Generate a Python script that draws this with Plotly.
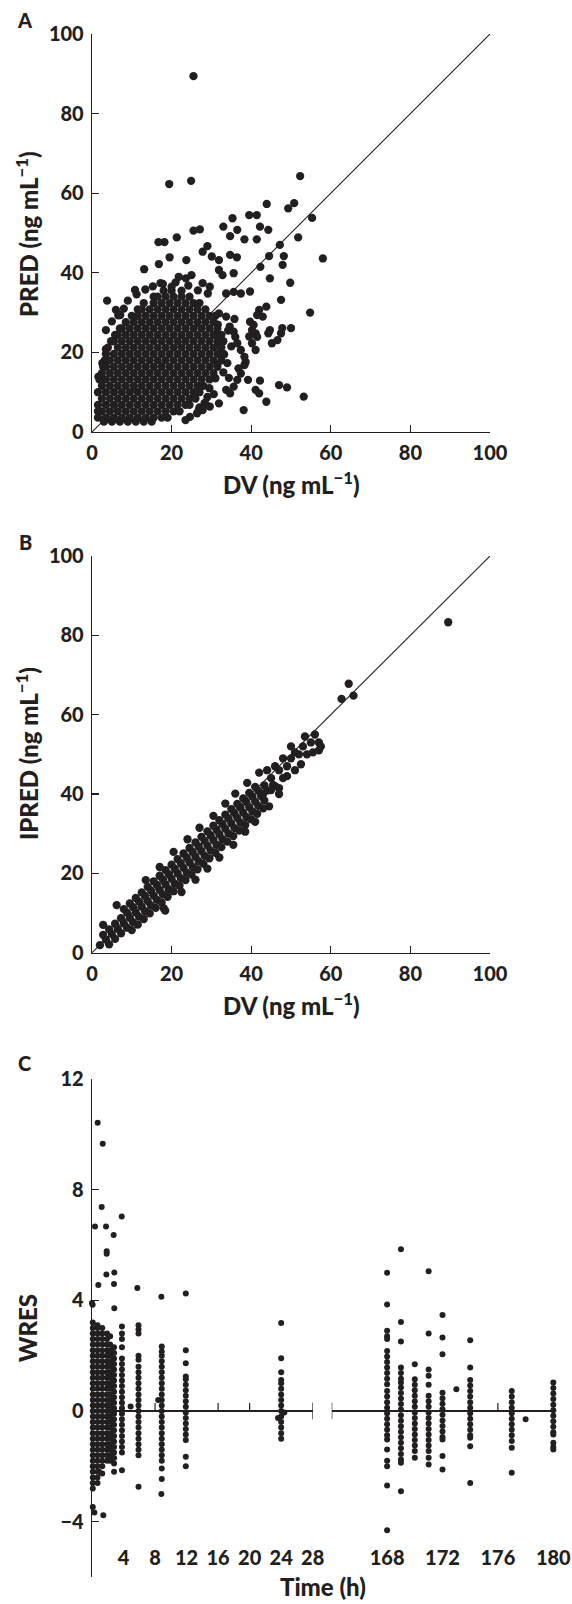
import plotly.graph_objects as go

W, H = 572, 1604
INK = "#231f20"
FONT = "Lato"

# ---------------- Panel A : PRED vs DV ----------------
AXIS_TICKS = [0, 20, 40, 60, 80, 100]
IDENTITY = [0, 100]

A_BLOB_PRED = [2.6, 3.6, 5.2, 6.8, 8.4, 10.0, 11.6, 13.2, 14.8, 16.4, 18.0,
               19.6, 21.2, 22.8, 24.4, 26.0, 27.6, 29.2, 30.8, 32.4, 34.0, 35.5]
A_BLOB_DV = [
    [3.0, 5.0, 7.0, 9.0, 11.0, 13.0, 15.0],
    [1.5, 3.5, 5.5, 7.5, 9.5, 11.5, 13.5, 15.5, 17.5, 19.0],
    [1.5, 2.5, 4.5, 6.5, 8.5, 10.5, 12.5, 14.5, 16.5, 18.5, 20.5, 22.0],
    [1.5, 3.5, 5.5, 7.5, 9.5, 11.5, 13.5, 15.5, 17.5, 19.5, 21.5, 23.5, 24.5],
    [2.5, 4.5, 6.5, 8.5, 10.5, 12.5, 14.5, 16.5, 18.5, 20.5, 22.5, 24.5, 26.0],
    [1.5, 3.5, 5.5, 7.5, 9.5, 11.5, 13.5, 15.5, 17.5, 19.5, 21.5, 23.5, 25.5, 27.0],
    [2.5, 4.5, 6.5, 8.5, 10.5, 12.5, 14.5, 16.5, 18.5, 20.5, 22.5, 24.5, 26.5, 28.0],
    [1.9, 3.5, 5.5, 7.5, 9.5, 11.5, 13.5, 15.5, 17.5, 19.5, 21.5, 23.5, 25.5, 27.5, 29.5],
    [2.5, 4.5, 6.5, 8.5, 10.5, 12.5, 14.5, 16.5, 18.5, 20.5, 22.5, 24.5, 26.5, 28.5, 30.5],
    [2.8, 3.5, 5.5, 7.5, 9.5, 11.5, 13.5, 15.5, 17.5, 19.5, 21.5, 23.5, 25.5, 27.5, 29.5, 31.5],
    [3.2, 4.5, 6.5, 8.5, 10.5, 12.5, 14.5, 16.5, 18.5, 20.5, 22.5, 24.5, 26.5, 28.5, 30.5, 32.5],
    [3.5, 5.5, 7.5, 9.5, 11.5, 13.5, 15.5, 17.5, 19.5, 21.5, 23.5, 25.5, 27.5, 29.5, 31.5, 33.0],
    [4.0, 6.5, 8.5, 10.5, 12.5, 14.5, 16.5, 18.5, 20.5, 22.5, 24.5, 26.5, 28.5, 30.5, 32.5],
    [4.8, 5.5, 7.5, 9.5, 11.5, 13.5, 15.5, 17.5, 19.5, 21.5, 23.5, 25.5, 27.5, 29.5, 31.5, 33.0],
    [5.8, 6.5, 8.5, 10.5, 12.5, 14.5, 16.5, 18.5, 20.5, 22.5, 24.5, 26.5, 28.5, 30.5, 32.5],
    [7.0, 7.5, 9.5, 11.5, 13.5, 15.5, 17.5, 19.5, 21.5, 23.5, 25.5, 27.5, 29.5, 31.5],
    [8.5, 10.5, 12.5, 14.5, 16.5, 18.5, 20.5, 22.5, 24.5, 26.5, 28.5, 30.5],
    [10.0, 11.5, 13.5, 15.5, 17.5, 19.5, 21.5, 23.5, 25.5, 27.5, 29.5, 31.0],
    [11.5, 12.5, 14.5, 16.5, 18.5, 20.5, 22.5, 24.5, 26.5, 28.5],
    [13.0, 15.5, 17.5, 19.5, 21.5, 23.5, 25.5, 27.0],
    [15.5, 16.5, 18.5, 20.5, 22.5, 24.5],
    [18.0, 20.0, 22.5],
]

A_SCAT_DV = [25.5, 19.4, 24.9, 52.3, 43.9, 49.3, 50.8, 41.4, 39.5, 35.3, 33.0, 25.5, 27.1,
             21.3, 16.7, 18.2, 42.2, 44.3, 41.4, 38.3, 36.5, 34.7, 29.0, 47.2, 51.8, 55.3,
             58.0, 54.8, 53.2, 49.8, 50.0, 48.2, 47.9, 47.5, 47.8, 47.0, 49.0, 43.8, 42.2,
             44.7, 44.5, 42.3, 39.7, 38.1, 23.5, 3.8, 1.6, 3.5, 2.6, 3.5, 13.1, 16.8, 19.5,
             23.7, 10.8, 6.0, 7.1, 27.8, 30.1, 31.9, 34.7, 36.4, 35.6, 31.9, 32.8, 27.8,
             29.6, 25.0, 21.8, 23.6, 17.2, 20.0, 33.7, 35.6, 37.4, 29.1, 31.9, 33.7, 34.6,
             35.6, 36.0, 36.5, 37.4, 38.3, 40.2, 41.1, 39.7, 40.6, 40.2, 41.1, 41.5, 42.9,
             43.8, 44.3, 44.7, 45.2, 46.6, 47.5, 41.5, 42.0, 37.4, 38.3, 36.5, 35.6, 33.7,
             34.7, 31.9, 29.6, 27.8, 26.4, 24.6, 41.1, 42.0, 39.2,
             29.5, 31.0, 33.0, 34.0, 33.2, 35.0, 29.0, 30.6, 28.3, 27.0, 34.4, 36.8,
             9.0, 11.2, 13.4, 15.3, 17.8, 21.0, 24.2, 26.6, 8.0, 6.6, 5.0, 38.6, 39.5,
             31.5, 32.2, 30.8, 34.2, 31.6, 26.8, 28.6, 35.8]
A_SCAT_PRED = [89.4, 62.3, 63.1, 64.3, 57.3, 56.2, 57.5, 54.5, 54.5, 53.7, 51.6, 50.6, 50.9,
               48.9, 47.7, 47.7, 51.6, 50.8, 48.4, 48.4, 50.8, 49.2, 46.7, 47.0, 48.9, 53.8,
               43.6, 30.0, 8.9, 37.5, 26.1, 44.2, 42.0, 33.2, 26.1, 11.8, 11.2, 7.6, 12.9,
               38.6, 44.2, 41.5, 35.3, 5.5, 3.0, 33.0, 13.9, 25.6, 17.3, 20.8, 40.9, 42.2, 43.9,
               43.2, 35.7, 30.7, 29.4, 45.3, 44.1, 43.2, 44.5, 43.9, 39.9, 40.7, 39.4, 37.4,
               36.5, 39.4, 39.0, 38.6, 37.4, 36.5, 34.8, 35.2, 34.8, 34.8, 29.8, 29.0, 26.5,
               25.2, 23.9, 22.3, 20.6, 18.9, 22.3, 20.6, 27.7, 26.9, 25.6, 24.8, 23.9, 29.0,
               31.5, 24.8, 25.6, 22.3, 23.1, 24.8, 29.4, 30.7, 14.7, 16.8, 13.1, 11.4, 10.6,
               9.7, 7.2, 6.4, 5.5, 4.7, 3.8, 10.6, 9.7, 13.1,
               11.0, 13.5, 15.0, 17.3, 19.5, 21.5, 8.8, 9.5, 7.3, 6.2, 13.6, 16.0,
               33.0, 34.6, 35.8, 36.6, 37.2, 37.6, 36.8, 35.6, 31.0, 29.3, 27.8, 17.6, 24.0,
               17.0, 21.5, 24.5, 25.5, 27.0, 5.4, 6.9, 28.4]

# ---------------- Panel B : IPRED vs DV ----------------
B_MID_DV = [2, 3.5, 5, 6.5, 8, 9.5, 11, 12.5, 14, 15.5, 17, 18.5, 20, 21.5, 23, 24.5, 26,
            27.5, 29, 30.5, 32, 33.5, 35, 36.5, 38, 39.5, 41, 42.5, 44, 45.5]
B_MID_IP = [1.9, 3.3, 4.7, 6.0, 7.4, 8.8, 10.2, 11.6, 13.0, 14.4, 15.8, 17.2, 18.6, 20.0,
            21.4, 22.8, 24.2, 25.6, 27.0, 28.4, 29.8, 31.2, 32.6, 34.0, 35.3, 36.7, 38.1,
            39.5, 40.9, 42.3]
B_UP_DV = [2.8, 4.3, 5.8, 7.3, 8.8, 10.3, 11.8, 13.3, 14.8, 16.3, 17.8, 19.3, 20.8, 22.3,
           23.8, 25.3, 26.8, 28.3, 29.8, 31.3, 32.8, 34.3, 35.8, 37.3, 38.8, 40.3, 41.8, 43.3]
B_UP_IP = [4.5, 5.9, 7.3, 8.7, 10.1, 11.5, 12.9, 14.3, 15.7, 17.1, 18.5, 19.8, 21.2, 22.6,
           24.0, 25.4, 26.8, 28.2, 29.6, 31.0, 32.4, 33.8, 35.2, 36.6, 38.0, 39.4, 40.8, 42.2]
B_LO_DV = [4.3, 5.8, 7.3, 8.8, 10.3, 11.8, 13.3, 14.8, 16.3, 17.8, 19.3, 20.8, 22.3, 23.8,
           25.3, 26.8, 28.3, 29.8, 31.3, 32.8, 34.3, 35.8, 37.3, 38.8, 40.3, 41.8, 43.3]
B_LO_IP = [2.1, 3.5, 4.9, 6.3, 7.7, 9.1, 10.5, 11.9, 13.3, 14.7, 16.0, 17.4, 18.8, 20.2,
           21.6, 23.0, 24.4, 25.8, 27.2, 28.6, 30.0, 31.4, 32.8, 34.2, 35.6, 37.0, 38.4]
B_OUTUP_DV = [8, 9.5, 11, 12.5, 14, 15.5, 17, 18.5, 20, 21.5, 23, 24.5, 26, 27.5, 29, 30.5,
              32, 33.5, 35, 36.5, 38, 39.5, 41]
B_OUTUP_IP = [11.0, 12.4, 13.8, 15.2, 16.6, 18.0, 19.4, 20.8, 22.2, 23.6, 25.0, 26.4, 27.8,
              29.2, 30.6, 32.0, 33.4, 34.8, 36.2, 37.5, 38.9, 40.3, 41.8]
B_OUTLO_DV = [10, 11.5, 13, 14.5, 16, 17.5, 19, 20.5, 22, 23.5, 25, 26.5, 28, 29.5, 31, 32.5,
              34, 35.5, 37, 38.5, 40, 41.5, 43]
B_OUTLO_IP = [5.7, 7.1, 8.5, 9.9, 11.3, 12.7, 14.1, 15.5, 16.9, 18.3, 19.7, 21.0, 22.4, 23.8,
              25.2, 26.6, 28.0, 29.4, 30.8, 32.2, 33.6, 35.0, 36.4]
B_EDGE_DV = [13.5, 17.0, 20.5, 24.0, 27.0, 30.5, 33.5, 36.0, 39.0, 42.0, 18.0, 22.5, 26.0,
             29.0, 32.0, 35.5, 38.5, 41.0, 44.5, 47.0]
B_EDGE_IP = [18.3, 21.6, 25.4, 28.6, 31.5, 34.5, 37.6, 40.1, 42.8, 45.4, 11.2, 15.3, 18.4,
             21.2, 24.0, 27.2, 30.5, 33.0, 36.9, 41.5]
B_SCAT_DV = [45, 46, 47, 48, 49, 50, 51, 52, 53, 54, 55, 56, 57, 57, 50, 48, 46, 44, 43, 45,
             47, 62.7, 64.5, 65.7, 89.5, 6.2, 18.4, 2.8, 49, 52.5, 55.5, 57.5, 51, 53.5]
B_SCAT_IP = [44, 42, 46, 44, 47, 49, 46, 50, 52, 50, 53, 55, 51, 53, 52, 49, 47, 46, 40, 41,
             40, 64, 67.8, 64.8, 83.3, 12.0, 10.6, 7.0, 44.5, 47.5, 50.5, 52.0, 50.5, 54.5]

# ---------------- Panel C : WRES vs time ----------------
C_Y_TICKS = [-4, 0, 4, 8, 12]
C_Y_TEXT = ["\u22124", "0", "4", "8", "12"]
C_LEFT_TICKS = [4, 8, 12, 16, 20, 24, 28]
C_RIGHT_TICKS = [168, 172, 176, 180]
C_BREAKS_LEFT = [28]
C_BREAKS_RIGHT = [164]

C_COL_T = [0.1, 0.7, 1.3, 1.9, 2.3, 2.8, 3.8, 5.9, 8.85, 11.9, 24.0]
C_COL_W = [
    [-2.8, -2.6, -2.4, -2.2, -2.0, -1.8, -1.6, -1.4, -1.2, -1.0, -0.8, -0.6, -0.4, -0.2, 0.0,
     0.2, 0.4, 0.6, 0.8, 1.0, 1.2, 1.4, 1.6, 1.8, 2.0, 2.2, 2.4, 2.6, 2.8, 3.0, 3.2],
    [-2.6, -2.4, -2.2, -2.0, -1.8, -1.6, -1.4, -1.2, -1.0, -0.8, -0.6, -0.4, -0.2, 0.0, 0.2,
     0.4, 0.6, 0.8, 1.0, 1.2, 1.4, 1.6, 1.8, 2.0, 2.2, 2.4, 2.6, 2.8, 3.0, 3.1],
    [-2.0, -1.8, -1.6, -1.4, -1.2, -1.0, -0.8, -0.6, -0.4, -0.2, 0.0, 0.2, 0.4, 0.6, 0.8,
     1.0, 1.2, 1.4, 1.6, 1.8, 2.0, 2.2, 2.4, 2.6, 2.8, 3.0],
    [-1.8, -1.6, -1.4, -1.2, -1.0, -0.8, -0.6, -0.4, -0.2, 0.0, 0.2, 0.4, 0.6, 0.8, 1.0,
     1.2, 1.4, 1.6, 1.8, 2.0, 2.2, 2.4, 2.6, 2.8],
    [-1.8, -1.6, -1.4, -1.2, -1.0, -0.8, -0.6, -0.4, -0.2, 0.0, 0.2, 0.4, 0.6, 0.8, 1.0,
     1.2, 1.4, 1.6, 1.8, 2.0, 2.2, 2.4, 2.7],
    [-1.9, -1.7, -1.5, -1.3, -1.1, -0.9, -0.7, -0.5, -0.3, -0.1, 0.1, 0.3, 0.5, 0.7, 0.9,
     1.1, 1.3, 1.5, 1.7, 1.9, 2.1, 2.3],
    [-1.5, -1.3, -1.1, -0.9, -0.7, -0.5, -0.3, -0.1, 0.1, 0.3, 0.5, 0.7, 0.9, 1.1, 1.3,
     1.5, 1.7, 1.9, 2.3, 2.6, 2.8, 3.05],
    [-1.6, -1.4, -1.2, -1.0, -0.8, -0.6, -0.4, -0.2, 0.0, 0.2, 0.4, 0.6, 0.8, 1.0, 1.2,
     1.4, 1.6, 1.85, 2.0, 2.8, 2.95, 3.1],
    [-1.8, -1.6, -1.4, -1.2, -1.0, -0.8, -0.6, -0.4, -0.2, 0.0, 0.2, 0.4, 0.6, 0.8, 1.0,
     1.2, 1.4, 1.6, 1.8, 2.0, 2.15, 2.33],
    [-1.05, -0.85, -0.65, -0.45, -0.25, -0.05, 0.15, 0.35, 0.55, 0.75, 0.95, 1.15, 1.25,
     1.73, 2.2],
    [-1.0, -0.8, -0.6, -0.4, -0.2, 0.0, 0.2, 0.4, 0.6, 0.8, 1.0, 1.12, 1.4, 1.91, 3.18],
]
C_OUT_T = [0.72, 1.36, 1.23, 3.77, 0.38, 1.78, 2.75, 1.86, 1.86, 1.82, 2.83, 0.8, 2.79,
           5.75, 8.8, 11.9, 0.08, 2.83, 0.0, 0.1, 0.3, 1.43, 1.3, 0.9, 4.9, 3.8, 2.8, 5.9,
           8.85, 8.85, 8.8, 11.9, 11.9, 8.4, 23.6, 24.4]
C_OUT_W = [10.42, 9.66, 7.37, 7.03, 6.67, 6.67, 6.36, 5.77, 5.68, 4.93, 5.01, 4.55, 4.59,
           4.45, 4.13, 4.25, 3.84, 3.71, 3.9, -3.47, -3.67, -3.77, -2.26, -2.2, 0.16, -2.14,
           -2.2, -2.74, -2.08, -2.46, -3.0, -1.65, -2.0, 0.4, -0.25, -0.05]

C_R_T = [168, 169, 170, 171, 172, 173, 174, 177, 178, 180]
C_R_W = [
    [5.0, 3.85, 2.9, 2.7, 2.6, 2.17, 1.97, 1.77, 1.57, 1.37, 1.17, 0.97, 0.72, 0.52, 0.32,
     0.12, -0.08, -0.28, -0.48, -0.68, -0.88, -1.03, -1.39, -1.8, -2.0, -2.69, -4.31],
    [5.85, 3.22, 2.51, 1.57, 1.37, 1.17, 1.03, 0.85, 0.65, 0.45, 0.25, 0.05, -0.15, -0.35,
     -0.55, -0.75, -0.95, -1.15, -1.35, -1.55, -1.75, -1.87, -2.9],
    [1.69, 1.15, 0.95, 0.75, 0.55, 0.35, 0.15, -0.05, -0.25, -0.45, -0.65, -0.85, -1.05,
     -1.25, -1.45, -1.69],
    [5.05, 2.8, 1.5, 1.27, 0.95, 0.55, 0.35, 0.15, -0.05, -0.25, -0.45, -0.65, -0.85, -1.05,
     -1.25, -1.45, -1.69, -1.93],
    [3.47, 2.66, 2.05, 0.66, 0.46, 0.26, 0.06, -0.14, -0.34, -0.54, -0.74, -0.94, -1.03,
     -1.63, -2.11],
    [0.79],
    [2.56, 1.57, 1.12, 0.92, 0.72, 0.52, 0.32, 0.12, -0.08, -0.28, -0.48, -0.68, -0.88,
     -0.97, -1.27, -2.6],
    [0.72, 0.52, 0.32, 0.12, -0.08, -0.28, -0.48, -0.68, -0.88, -1.08, -1.33, -2.23],
    [-0.3],
    [1.03, 0.83, 0.63, 0.43, 0.23, 0.03, -0.17, -0.37, -0.57, -0.77, -0.85, -1.15, -1.3,
     -1.39],
]

# ---------------- geometry (pixels of the 572x1604 page) ----------------
def fx(px):
    return px / W


def fy(py):
    return 1 - py / H


A_X_DOM = [fx(92), fx(490)]
A_Y_DOM = [fy(432), fy(34)]
B_Y_DOM = [fy(952.7), fy(556)]
C_Y_DOM = [fy(1577), fy(1079)]
C_XL_DOM = [fx(92), fx(312.7)]
C_XR_DOM = [fx(331.7), fx(553.3)]

tick_font = dict(family=FONT, size=20, color=INK, weight=900)
title_font = dict(family=FONT, size=24, color=INK, weight=900)
letter_font = dict(family=FONT, size=20, color=INK, weight=900)

fig = go.Figure()


def dots(xs, ys, xa, ya, size):
    fig.add_trace(go.Scatter(x=xs, y=ys, mode="markers", xaxis=xa, yaxis=ya,
                             cliponaxis=False, hoverinfo="skip",
                             marker=dict(size=size, color=INK, line=dict(width=0))))


# Panel A
blob_x, blob_y = [], []
for lvl, row in zip(A_BLOB_PRED, A_BLOB_DV):
    blob_x += row
    blob_y += [lvl] * len(row)
dots(blob_x, blob_y, "x", "y", 8.3)
dots(A_SCAT_DV, A_SCAT_PRED, "x", "y", 8.3)
fig.add_trace(go.Scatter(x=IDENTITY, y=IDENTITY, mode="lines", xaxis="x", yaxis="y",
                         line=dict(color=INK, width=1.1), hoverinfo="skip"))

# Panel B
for xs, ys in [(B_MID_DV, B_MID_IP), (B_UP_DV, B_UP_IP), (B_LO_DV, B_LO_IP),
               (B_OUTUP_DV, B_OUTUP_IP), (B_OUTLO_DV, B_OUTLO_IP), (B_EDGE_DV, B_EDGE_IP),
               (B_SCAT_DV, B_SCAT_IP)]:
    dots(xs, ys, "x2", "y2", 8.3)
fig.add_trace(go.Scatter(x=IDENTITY, y=IDENTITY, mode="lines", xaxis="x2", yaxis="y2",
                         line=dict(color=INK, width=1.1), hoverinfo="skip"))

# Panel C
cx, cy = [], []
for t, ws in zip(C_COL_T, C_COL_W):
    cx += [t] * len(ws)
    cy += ws
dots(cx + C_OUT_T, cy + C_OUT_W, "x3", "y3", 6)
rx, ry = [], []
for t, ws in zip(C_R_T, C_R_W):
    rx += [t] * len(ws)
    ry += ws
dots(rx, ry, "x4", "y4", 6)

sq_axis = dict(range=[0, 100], tickvals=AXIS_TICKS, showline=True, linecolor=INK,
               linewidth=1.3, ticks="inside", ticklen=7, tickwidth=1.3, tickcolor=INK,
               showgrid=False, zeroline=False, tickfont=tick_font, fixedrange=True,
               automargin=False)

fig.update_layout(
    template="none",
    width=W, height=H, margin=dict(l=0, r=0, t=0, b=0, pad=0, autoexpand=False),
    paper_bgcolor="white", plot_bgcolor="rgba(0,0,0,0)", showlegend=False,
    xaxis=dict(sq_axis, domain=A_X_DOM, anchor="y", ticklabelstandoff=3),
    yaxis=dict(sq_axis, domain=A_Y_DOM, anchor="x", ticklabelstandoff=3),
    xaxis2=dict(sq_axis, domain=A_X_DOM, anchor="y2", ticklabelstandoff=3),
    yaxis2=dict(sq_axis, domain=B_Y_DOM, anchor="x2", ticklabelstandoff=3),
    xaxis3=dict(domain=C_XL_DOM, range=[0, 28], anchor="free", position=fy(1544),
                tickvals=C_LEFT_TICKS, showline=False, ticks="", showgrid=False,
                zeroline=False, tickfont=tick_font, fixedrange=True, automargin=False),
    xaxis4=dict(domain=C_XR_DOM, range=[164, 180], anchor="free", position=fy(1544),
                tickvals=C_RIGHT_TICKS, showline=False, ticks="", showgrid=False,
                zeroline=False, tickfont=tick_font, fixedrange=True, automargin=False),
    yaxis3=dict(domain=C_Y_DOM, range=[-6, 12], anchor="x3", tickvals=C_Y_TICKS,
                ticktext=C_Y_TEXT, showline=True, linecolor=INK, linewidth=1.3,
                ticks="inside", ticklen=7, tickwidth=1.3, tickcolor=INK, showgrid=False,
                zeroline=True, zerolinecolor=INK, zerolinewidth=1.3, tickfont=tick_font,
                ticklabelstandoff=3, fixedrange=True, automargin=False),
    yaxis4=dict(domain=C_Y_DOM, range=[-6, 12], anchor="x4", showline=False,
                showticklabels=False, ticks="", showgrid=False, zeroline=True,
                zerolinecolor=INK, zerolinewidth=1.3, fixedrange=True, automargin=False),
)

# tick marks on the WRES = 0 line, and the axis-break marks
shapes = []
for t in C_LEFT_TICKS:
    if t not in C_BREAKS_LEFT:
        shapes.append(dict(type="line", xref="x3", yref="y3", x0=t, x1=t, y0=0, y1=0.29,
                           line=dict(color=INK, width=1.2)))
for t in C_BREAKS_LEFT:
    shapes.append(dict(type="line", xref="x3", yref="y3", x0=t, x1=t, y0=-0.3, y1=0.3,
                       line=dict(color=INK, width=1.2)))
for t in C_RIGHT_TICKS:
    shapes.append(dict(type="line", xref="x4", yref="y4", x0=t, x1=t, y0=0, y1=0.29,
                       line=dict(color=INK, width=1.2)))
for t in C_BREAKS_RIGHT:
    shapes.append(dict(type="line", xref="x4", yref="y4", x0=t, x1=t, y0=-0.3, y1=0.3,
                       line=dict(color=INK, width=1.2)))
fig.update_layout(shapes=shapes)


def note(text, px, py, font, angle=0):
    fig.add_annotation(text=text, x=fx(px), y=fy(py), xref="paper", yref="paper",
                       showarrow=False, xanchor="center", yanchor="middle",
                       textangle=angle, font=font)


note("A", 25, 20, letter_font)
note("B", 25, 542, letter_font)
note("C", 25, 1063, letter_font)
note("PRED (ng mL<sup>\u22121</sup>)", 27, 234, title_font, -90)
note("DV (ng mL<sup>\u22121</sup>)", 291, 483, title_font)
note("IPRED (ng mL<sup>\u22121</sup>)", 27, 754, title_font, -90)
note("DV (ng mL<sup>\u22121</sup>)", 291, 1004, title_font)
note("WRES", 27, 1328, title_font, -90)
note("Time (h)", 323, 1586, title_font)

fig.write_html("out.html", config={"displayModeBar": False, "staticPlot": True},
               post_script="document.body.style.margin='0px';"
                           "document.body.style.overflow='hidden';")
